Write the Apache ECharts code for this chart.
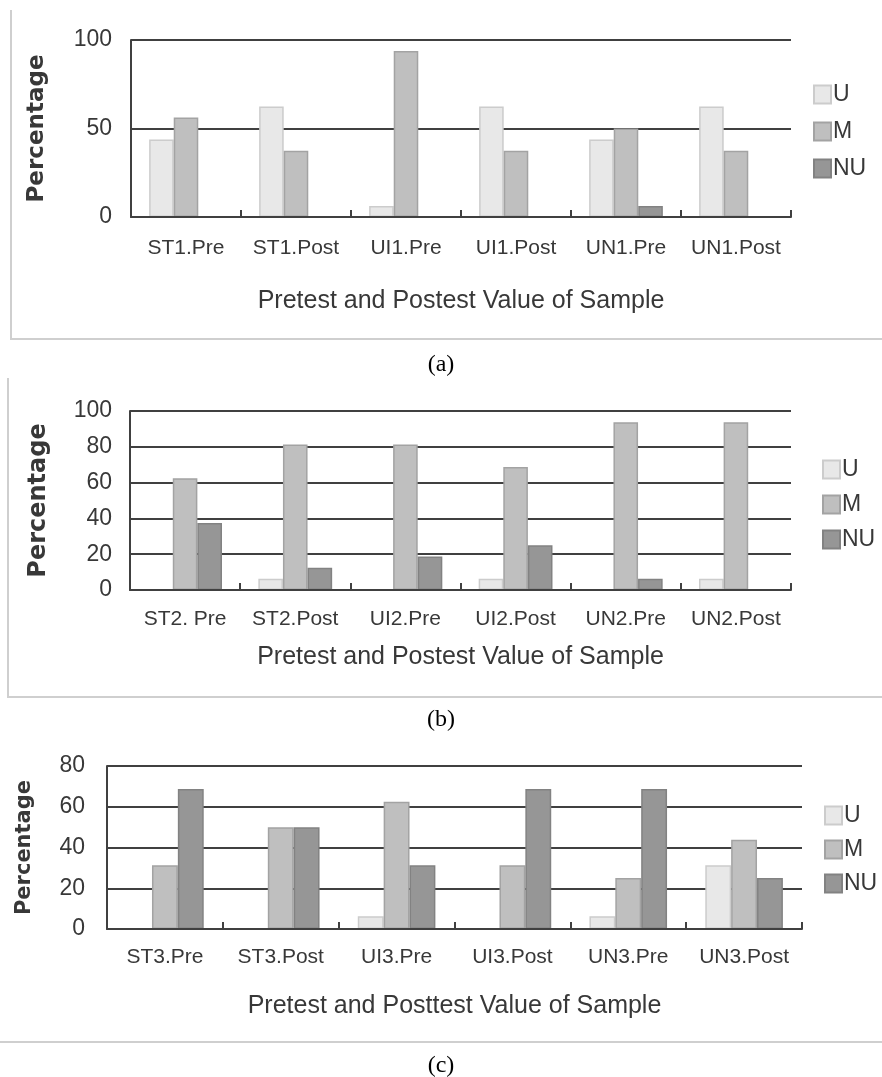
<!DOCTYPE html>
<html>
<head>
<meta charset="utf-8">
<script src="https://cdn.jsdelivr.net/npm/echarts@6/dist/echarts.min.js"></script>
<style>
html,body{margin:0;padding:0;background:#fff;}
#chart{width:882px;height:1077px;}
</style>
</head>
<body>
<div id="chart"></div>
<script>
// ---- data ----
const seriesNames = ['U', 'M', 'NU'];

const categoriesA = ['ST1.Pre', 'ST1.Post', 'UI1.Pre', 'UI1.Post', 'UN1.Pre', 'UN1.Post'];
const uA  = [43.75, 62.5, 6.25, 62.5, 43.75, 62.5];
const mA  = [56.25, 37.5, 93.75, 37.5, 50, 37.5];
const nuA = [0, 0, 0, 0, 6.25, 0];
const yTicksA = [0, 50, 100];

const categoriesB = ['ST2. Pre', 'ST2.Post', 'UI2.Pre', 'UI2.Post', 'UN2.Pre', 'UN2.Post'];
const uB  = [0, 6.25, 0, 6.25, 0, 6.25];
const mB  = [62.5, 81.25, 81.25, 68.75, 93.75, 93.75];
const nuB = [37.5, 12.5, 18.75, 25, 6.25, 0];
const yTicksB = [0, 20, 40, 60, 80, 100];

const categoriesC = ['ST3.Pre', 'ST3.Post', 'UI3.Pre', 'UI3.Post', 'UN3.Pre', 'UN3.Post'];
const uC  = [0, 0, 6.25, 0, 6.25, 31.25];
const mC  = [31.25, 50, 62.5, 31.25, 25, 43.75];
const nuC = [68.75, 50, 31.25, 68.75, 68.75, 25];
const yTicksC = [0, 20, 40, 60, 80];

const xTitleA = 'Pretest and Postest Value of Sample';
const xTitleB = 'Pretest and Postest Value of Sample';
const xTitleC = 'Pretest and Posttest Value of Sample';
const yTitle = 'Percentage';
const captions = ['(a)', '(b)', '(c)'];

// ---- styles ----
const SANS = '"Liberation Sans", Arial, sans-serif';
const TXT = '#383838';
const LINE = '#404040';
const fills = ['#e8e8e8', '#bfbfbf', '#969696'];
const borders = ['#cccccc', '#a3a3a3', '#828282'];

const panels = [
  {cats: categoriesA, vals: [uA, mA, nuA], ticks: yTicksA, xTitle: xTitleA,
   grid: {left: 131, right: 91, top: 40, height: 177},
   yLabelMargin: 19, xLabelMargin: 21, xNameGap: 72, yNameGap: 82, yNameSize: 23,
   legend: {left: 808, top: 78, itemGap: 14}},
  {cats: categoriesB, vals: [uB, mB, nuB], ticks: yTicksB, xTitle: xTitleB,
   grid: {left: 130, right: 91, top: 411, height: 179},
   yLabelMargin: 18, xLabelMargin: 19, xNameGap: 55, yNameGap: 79, yNameSize: 24,
   legend: {left: 817, top: 453, itemGap: 12}},
  {cats: categoriesC, vals: [uC, mC, nuC], ticks: yTicksC, xTitle: xTitleC,
   grid: {left: 107, right: 80, top: 766, height: 163},
   yLabelMargin: 22, xLabelMargin: 18, xNameGap: 65, yNameGap: 72, yNameSize: 21,
   legend: {left: 819, top: 799, itemGap: 11}}
];

const grids = [], xAxes = [], yAxes = [], series = [], legends = [];
panels.forEach((p, i) => {
  grids.push(Object.assign({containLabel: false}, p.grid));
  xAxes.push({
    type: 'category', gridIndex: i, data: p.cats, boundaryGap: true, z: 5,
    axisLine: {show: true, lineStyle: {color: LINE, width: 2}},
    axisTick: {show: true, inside: true, length: 7, lineStyle: {color: LINE, width: 2}},
    axisLabel: {color: TXT, fontFamily: SANS, fontSize: 21, margin: p.xLabelMargin, interval: 0},
    name: p.xTitle, nameLocation: 'middle', nameGap: p.xNameGap,
    nameTextStyle: {color: TXT, fontFamily: SANS, fontSize: 25}
  });
  const max = p.ticks[p.ticks.length - 1];
  yAxes.push({
    type: 'value', gridIndex: i, min: 0, max: max, interval: p.ticks[1] - p.ticks[0],
    axisLine: {show: true, lineStyle: {color: LINE, width: 2}},
    axisTick: {show: false},
    splitLine: {show: true, lineStyle: {color: LINE, width: 2}},
    axisLabel: {color: TXT, fontFamily: SANS, fontSize: 23, margin: p.yLabelMargin},
    name: yTitle, nameLocation: 'middle', nameGap: p.yNameGap,
    nameTextStyle: {color: TXT, fontFamily: '"DejaVu Sans", sans-serif', fontWeight: 'bold', fontSize: p.yNameSize}
  });
  seriesNames.forEach((nm, k) => {
    series.push({
      type: 'bar', name: nm, xAxisIndex: i, yAxisIndex: i,
      data: p.vals[k], barGap: '0%', barCategoryGap: '33%',
      itemStyle: {color: fills[k], borderColor: borders[k], borderWidth: 1.5},
      emphasis: {disabled: true}
    });
  });
  legends.push({
    orient: 'vertical', left: p.legend.left, top: p.legend.top, itemGap: p.legend.itemGap,
    itemWidth: 17, itemHeight: 18, icon: 'rect', data: seriesNames, selectedMode: false,
    textStyle: {color: TXT, fontFamily: SANS, fontSize: 23, padding: [0, 0, 0, -3]}
  });
});

const frameColor = '#cfcfcf';
const capFont = '24px "Liberation Serif", serif';
const graphic = [
  {type: 'line', shape: {x1: 11, y1: 10, x2: 11, y2: 339}, style: {stroke: frameColor, lineWidth: 2}},
  {type: 'line', shape: {x1: 10, y1: 339, x2: 882, y2: 339}, style: {stroke: frameColor, lineWidth: 2}},
  {type: 'line', shape: {x1: 8, y1: 378, x2: 8, y2: 697}, style: {stroke: frameColor, lineWidth: 2}},
  {type: 'line', shape: {x1: 7, y1: 697, x2: 882, y2: 697}, style: {stroke: frameColor, lineWidth: 2}},
  {type: 'line', shape: {x1: 0, y1: 1042, x2: 882, y2: 1042}, style: {stroke: frameColor, lineWidth: 2}},
  {type: 'text', x: 441, y: 365, style: {text: captions[0], fill: '#000', font: capFont, textAlign: 'center', textVerticalAlign: 'middle'}},
  {type: 'text', x: 441, y: 720, style: {text: captions[1], fill: '#000', font: capFont, textAlign: 'center', textVerticalAlign: 'middle'}},
  {type: 'text', x: 441, y: 1066, style: {text: captions[2], fill: '#000', font: capFont, textAlign: 'center', textVerticalAlign: 'middle'}}
];

const chart = echarts.init(document.getElementById('chart'), null, {renderer: 'canvas'});
chart.setOption({
  animation: false,
  backgroundColor: '#ffffff',
  grid: grids, xAxis: xAxes, yAxis: yAxes, series: series, legend: legends,
  graphic: graphic
});
</script>
</body>
</html>
